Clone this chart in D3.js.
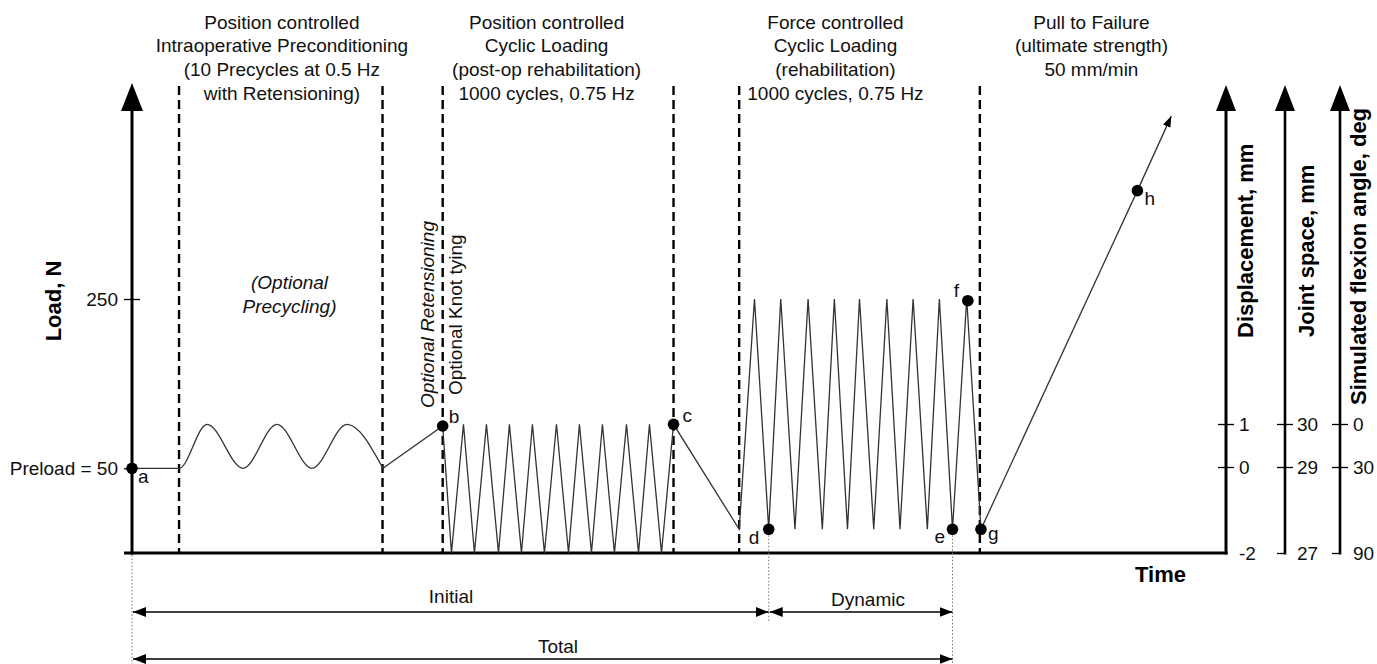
<!DOCTYPE html>
<html>
<head>
<meta charset="utf-8">
<title>Test protocol schematic</title>
<script src="https://d3js.org/d3.v7.min.js"></script>
<style>
  body { margin: 0; background: #fff; }
  svg { display: block; font-family: "Liberation Sans", Arial, sans-serif; }
  .lbl { font-size: 19px; fill: #111; }
  .ttl { font-size: 22px; font-weight: bold; fill: #000; }
</style>
</head>
<body>
<div id="chart"></div>
<script>
// ---- data (time in arbitrary units, load in N) ----
const phaseBounds = [43, 229, 284, 495, 555, 775];
const phaseTitles = [
  ["Position controlled", "Intraoperative Preconditioning", "(10 Precycles at 0.5 Hz", "with Retensioning)"],
  ["Position controlled", "Cyclic Loading", "(post-op rehabilitation)", "1000 cycles, 0.75 Hz"],
  ["Force controlled", "Cyclic Loading", "(rehabilitation)", "1000 cycles, 0.75 Hz"],
  ["Pull to Failure", "(ultimate strength)", "50 mm/min"]
];
const phaseTitleT = [137, 379, 643, 877];

// preload + optional precycling (smooth)
const preT    = [0, 43, 68.6, 101.5, 132.5, 164.5, 196.5, 229.4];
const preLoad = [50, 50, 102, 50, 102, 50, 102, 50];

// retensioning, position cycles, force cycles, pull to failure (straight segments)
const traceT = [229.4, 284, 292, 303, 313, 324, 335, 345, 356, 366, 377, 388, 399, 409, 420, 430, 441, 452, 463, 473, 484, 495,
                555, 569, 582, 593, 606, 618, 631, 642, 654, 665, 678, 690, 702, 714, 727, 738, 750, 763, 776, 919, 950];
const traceLoad = [50, 100, -50, 102, -50, 102, -50, 102, -50, 102, -50, 102, -50, 102, -50, 102, -50, 102, -50, 102, -50, 102,
                   -22, 250, -22, 250, -22, 250, -22, 250, -22, 250, -22, 250, -22, 250, -22, 250, -22, 250, -22, 378, 466];

const pointNames = ["a", "b", "c", "d", "e", "f", "g", "h"];
const pointT     = [0, 284, 495, 582, 750, 764, 776, 919];
const pointLoad  = [50, 100, 102, -22, -22, 248, -22, 378];

const loadTicks = [50, 250];
const dispTicks = [-2, 0, 1];
const jointTicks = [27, 29, 30];
const flexTicks = [90, 30, 0];

const spanNames = ["Initial", "Dynamic", "Total"];
const spanStart = [0, 582, 0];
const spanEnd   = [582, 750, 750];

// ---- layout ----
const W = 1377, H = 664;
const svg = d3.select("#chart").append("svg").attr("width", W).attr("height", H);

const x = d3.scaleLinear().domain([0, 1000]).range([132, 1226]);
const y = d3.scaleLinear().domain([-50, 250]).range([553, 299]);
const yDisp = d3.scaleLinear().domain([-2, 1]).range([553, 424]);
const yJoint = d3.scaleLinear().domain([27, 30]).range([553, 424]);
const yFlex = d3.scaleLinear().domain([90, 0]).range([553, 424]);
const base = y(-50);

const defs = svg.append("defs");
defs.append("marker").attr("id", "head").attr("markerUnits", "userSpaceOnUse")
  .attr("viewBox", "0 -6 14 12").attr("refX", 13).attr("refY", 0)
  .attr("markerWidth", 14).attr("markerHeight", 12).attr("orient", "auto-start-reverse")
  .append("path").attr("d", "M0,-5L13,0L0,5Z").attr("fill", "#000");
defs.append("marker").attr("id", "small").attr("markerUnits", "userSpaceOnUse")
  .attr("viewBox", "0 -5 12 10").attr("refX", 11).attr("refY", 0)
  .attr("markerWidth", 12).attr("markerHeight", 10).attr("orient", "auto")
  .append("path").attr("d", "M0,-4L11,0L0,4Z").attr("fill", "#000");

function arrowUp(px, tipY, half, len) {
  svg.append("path")
    .attr("d", `M${px},${tipY}L${px + half},${tipY + len}L${px - half},${tipY + len}Z`)
    .attr("fill", "#000");
}

// phase boundaries
svg.append("g").selectAll("line").data(phaseBounds).join("line")
  .attr("x1", d => x(d)).attr("x2", d => x(d))
  .attr("y1", 86).attr("y2", base)
  .attr("stroke", "#000").attr("stroke-width", 2.4).attr("stroke-dasharray", "9,5");

// phase titles
phaseTitles.forEach((lines, i) => {
  const t = svg.append("text").attr("class", "lbl").attr("text-anchor", "middle");
  lines.forEach((s, j) => {
    t.append("tspan").attr("x", x(phaseTitleT[i])).attr("y", 28.5 + 23.7 * j).text(s);
  });
});

// notes
const note = svg.append("text").attr("class", "lbl").attr("text-anchor", "middle")
  .style("font-style", "italic");
note.append("tspan").attr("x", x(144)).attr("y", 289).text("(Optional");
note.append("tspan").attr("x", x(144)).attr("y", 313).text("Precycling)");

svg.append("text").attr("class", "lbl").style("font-style", "italic")
  .attr("transform", `translate(${x(284) - 9},408) rotate(-90)`)
  .text("Optional Retensioning");
svg.append("text").attr("class", "lbl")
  .attr("transform", `translate(${x(284) + 19},395) rotate(-90)`)
  .text("Optional Knot tying");

// load axis
svg.append("line").attr("x1", x(0)).attr("x2", x(0)).attr("y1", base + 1.5).attr("y2", 105)
  .attr("stroke", "#000").attr("stroke-width", 3);
arrowUp(x(0), 83, 11, 28);
const ax = svg.append("g").attr("transform", `translate(${x(0)},0)`)
  .call(d3.axisLeft(y).tickValues(loadTicks).tickSize(8).tickPadding(6)
    .tickFormat(d => d === 50 ? "Preload = 50" : d));
ax.select(".domain").remove();
ax.selectAll(".tick text").attr("class", "lbl").attr("font-family", null).attr("font-size", null);
ax.selectAll(".tick line").attr("stroke-width", 1.3).attr("x1", d => d === 250 ? 8 : 0);

svg.append("text").attr("class", "ttl").attr("text-anchor", "middle")
  .attr("transform", "translate(61,301) rotate(-90)").text("Load, N");

// time axis
svg.append("line").attr("x1", 124).attr("x2", x(1000) + 1.5).attr("y1", base).attr("y2", base)
  .attr("stroke", "#000").attr("stroke-width", 3);
svg.append("text").attr("class", "ttl").attr("font-size", "21px").attr("text-anchor", "end")
  .attr("x", 1186).attr("y", 582).text("Time");

// right axes
const rightAxes = [
  { px: x(1000), sc: yDisp, ticks: dispTicks, title: "Displacement, mm", tx: 1253, ty: 338, pad: 5 },
  { px: 1285, sc: yJoint, ticks: jointTicks, title: "Joint space, mm", tx: 1314, ty: 337, pad: 4 },
  { px: 1340, sc: yFlex, ticks: flexTicks, title: "Simulated flexion angle, deg", tx: 1366, ty: 405, pad: 5 }
];
rightAxes.forEach((r, i) => {
  svg.append("line").attr("x1", r.px).attr("x2", r.px).attr("y1", base + 1.5).attr("y2", 105)
    .attr("stroke", "#000").attr("stroke-width", i === 0 ? 3 : 2.6);
  arrowUp(r.px, 85, 10, 26);
  const g = svg.append("g").attr("transform", `translate(${r.px},0)`)
    .call(d3.axisRight(r.sc).tickValues(r.ticks).tickSize(8).tickPadding(r.pad)
      .tickFormat(d => String(d)));
  g.select(".domain").remove();
  g.selectAll(".tick text").attr("class", "lbl").attr("font-family", null).attr("font-size", null);
  const low = r.sc.domain()[0];
  g.selectAll(".tick line").attr("stroke-width", 1.3)
    .attr("x1", d => (i === 0 && d === low) ? 0 : -8)
    .attr("x2", d => d === low ? 0 : 8);
  svg.append("text").attr("class", "ttl")
    .attr("transform", `translate(${r.tx},${r.ty}) rotate(-90)`).text(r.title);
});

// load trace
const pre = preT.map((t, i) => [t, preLoad[i]]);
svg.append("path").datum(pre)
  .attr("d", d3.line().x(d => x(d[0])).y(d => y(d[1])).curve(d3.curveMonotoneX))
  .attr("fill", "none").attr("stroke", "#333").attr("stroke-width", 1.3);
const tr = traceT.map((t, i) => [t, traceLoad[i]]);
svg.append("path").datum(tr)
  .attr("d", d3.line().x(d => x(d[0])).y(d => y(d[1])))
  .attr("fill", "none").attr("stroke", "#333").attr("stroke-width", 1.3)
  .attr("marker-end", "url(#small)");

// bottom spans
const dotted = [[0, base + 2, 664], [582, y(-22) + 6, 622], [750, y(-22) + 6, 664]];
svg.append("g").selectAll("line").data(dotted).join("line")
  .attr("x1", d => x(d[0])).attr("x2", d => x(d[0]))
  .attr("y1", d => d[1]).attr("y2", d => d[2])
  .attr("stroke", "#777").attr("stroke-width", 1).attr("stroke-dasharray", "1.5,2");

const spanY = [612, 612, 659];
const spanTextX = [451, 868, 558];
const spanTextY = [603, 606, 653];
spanNames.forEach((s, i) => {
  svg.append("line").attr("x1", x(spanStart[i]) + 1).attr("x2", x(spanEnd[i]))
    .attr("y1", spanY[i]).attr("y2", spanY[i])
    .attr("stroke", "#000").attr("stroke-width", 1.5)
    .attr("marker-start", "url(#head)").attr("marker-end", "url(#head)");
  svg.append("text").attr("class", "lbl").attr("text-anchor", "middle")
    .attr("x", spanTextX[i]).attr("y", spanTextY[i]).text(s);
});

// key points
const pts = pointNames.map((n, i) => ({ n, t: pointT[i], L: pointLoad[i] }));
const off = { a: [6, 15], b: [6, -3], c: [9, -2], d: [-20, 15], e: [-18, 14], f: [-14, -4], g: [7, 11], h: [7, 14] };
svg.append("g").selectAll("circle").data(pts).join("circle")
  .attr("cx", d => x(d.t)).attr("cy", d => y(d.L)).attr("r", 5.8).attr("fill", "#000");
svg.append("g").selectAll("text").data(pts).join("text").attr("class", "lbl")
  .attr("x", d => x(d.t) + off[d.n][0]).attr("y", d => y(d.L) + off[d.n][1]).text(d => d.n);
</script>
</body>
</html>
